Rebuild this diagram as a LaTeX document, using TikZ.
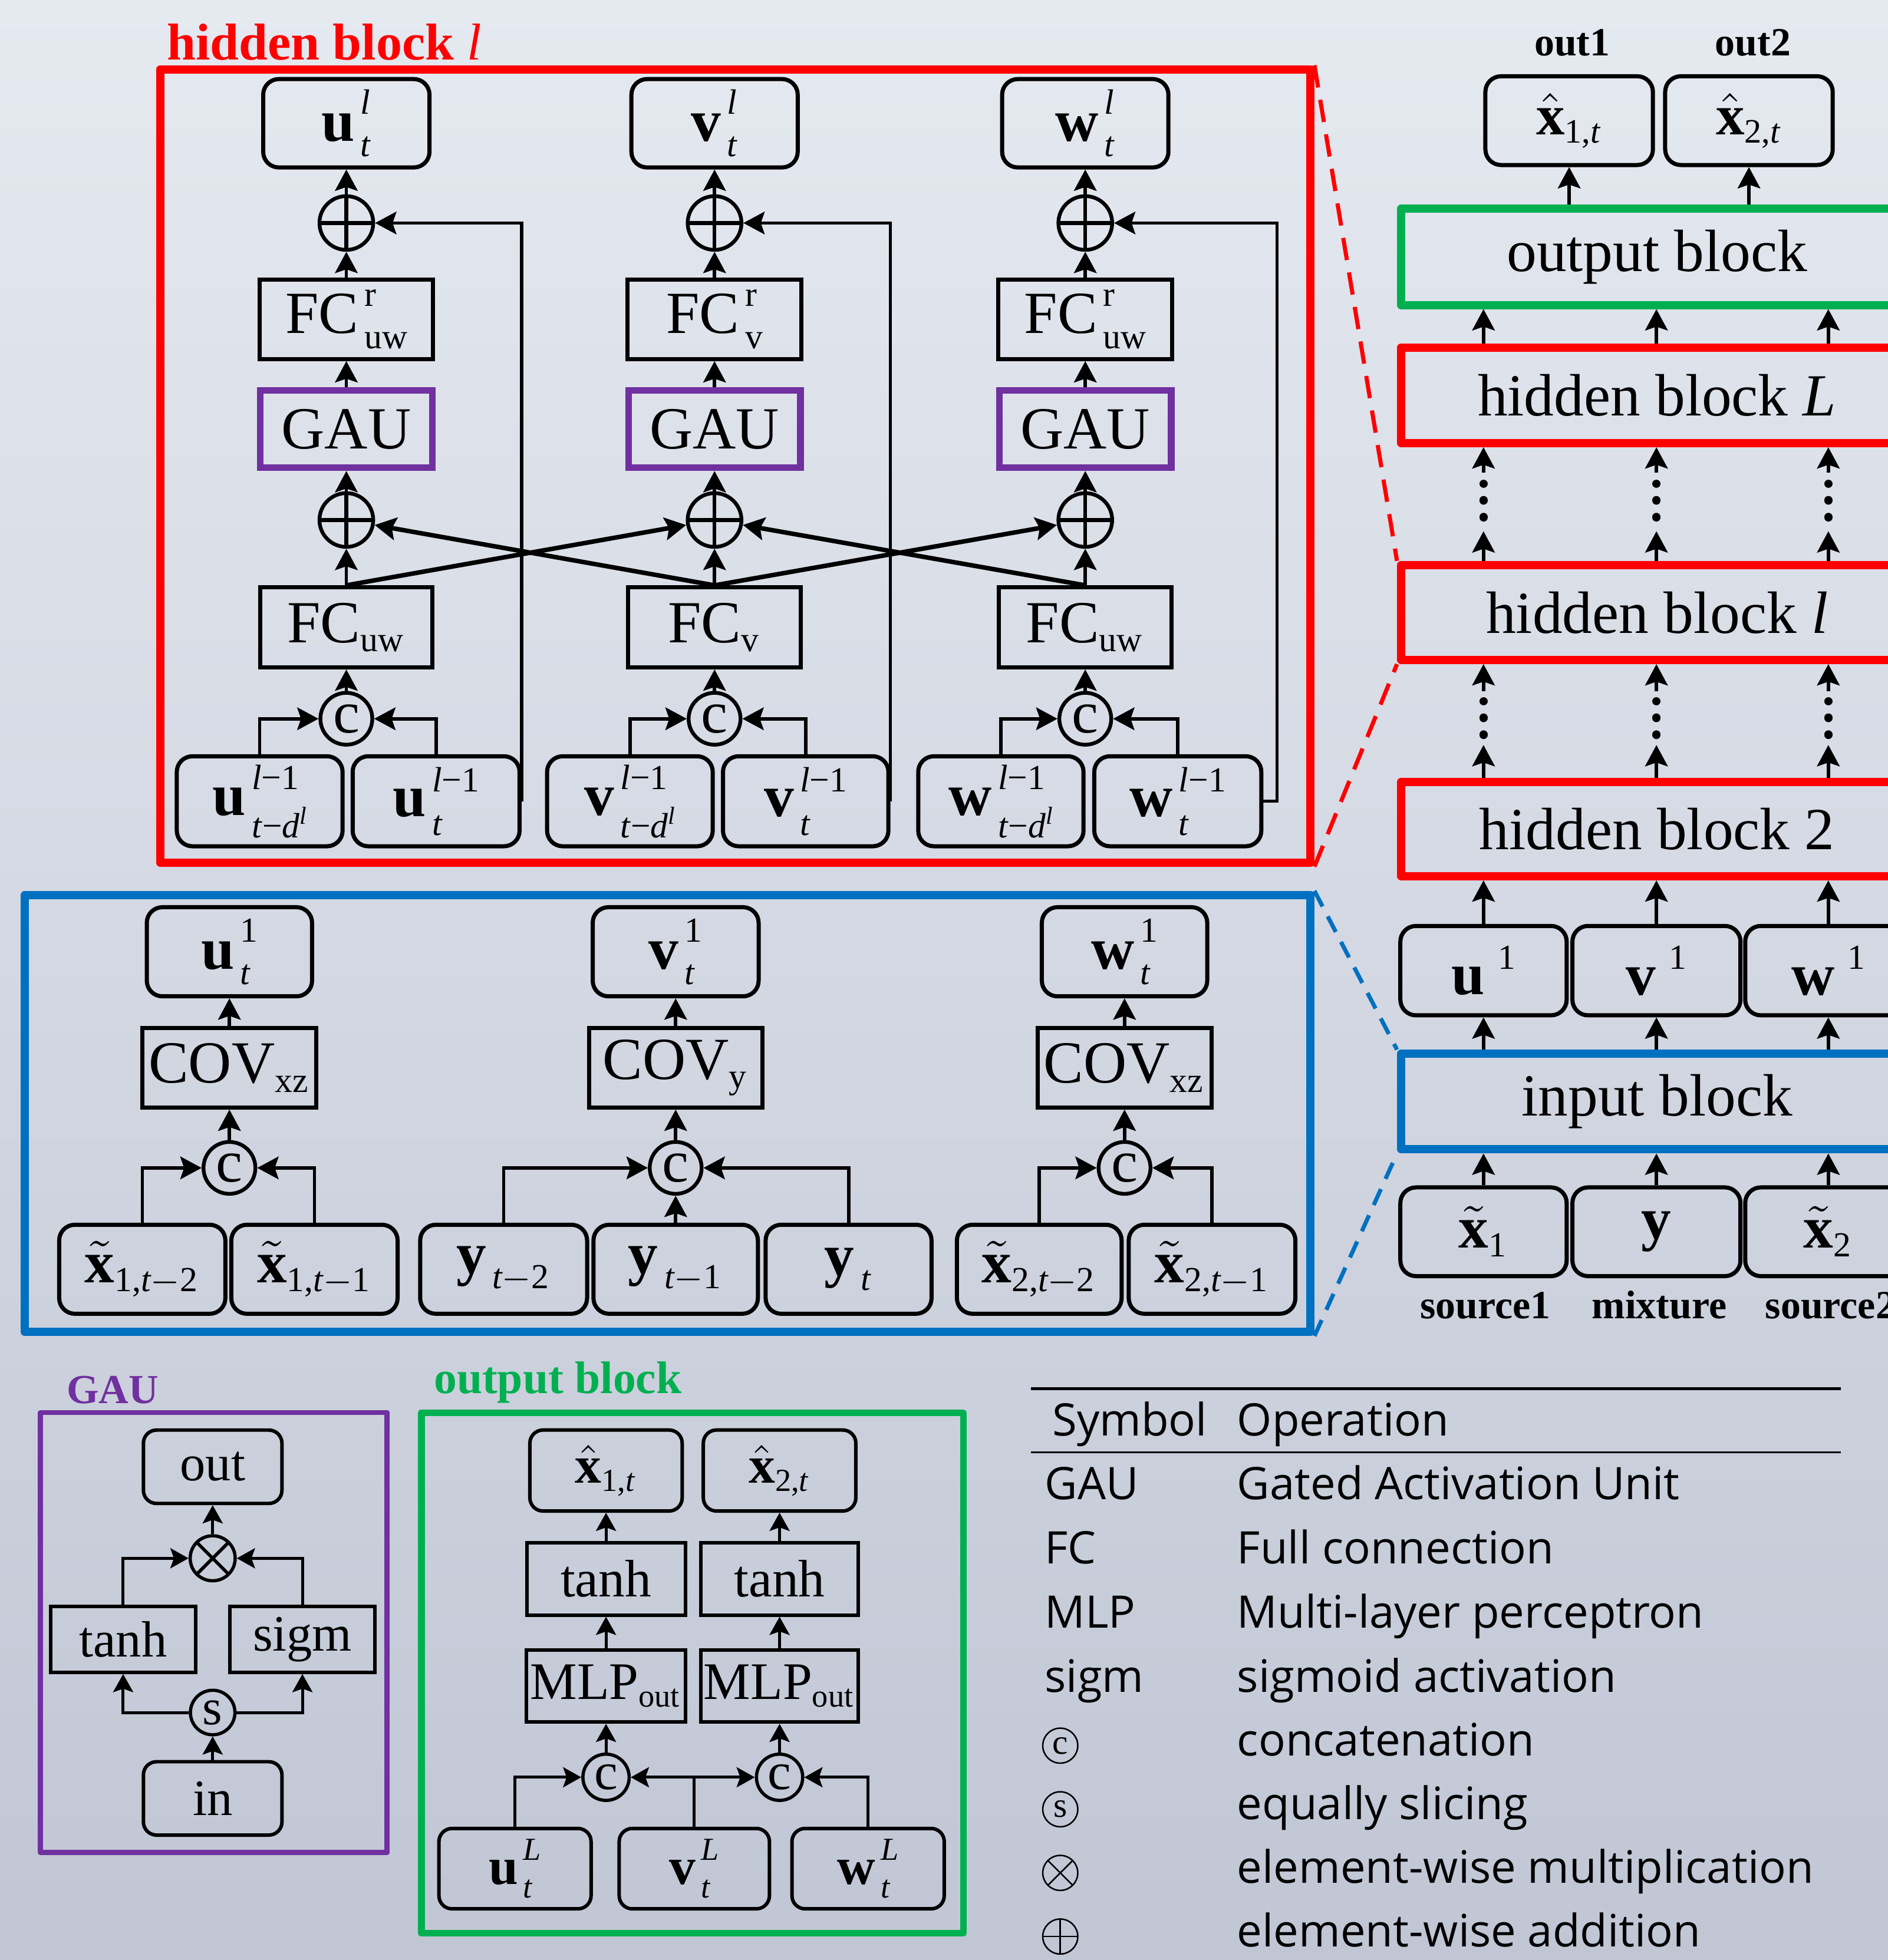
\documentclass[tikz,border=0pt]{standalone}
\usepackage{fix-cm}
\usepackage{amsmath}
\usepackage{fontspec}
\setmainfont{Liberation Serif}
\newfontfamily\tabfont{Open Sans}
\usetikzlibrary{arrows.meta,calc}
\definecolor{bgtop}{HTML}{E5E9F0}
\definecolor{bgbot}{HTML}{C0C6D4}
\definecolor{gpur}{HTML}{7030A0}
\definecolor{ggrn}{HTML}{00B050}
\definecolor{gblu}{HTML}{0070C0}
\definecolor{gred}{HTML}{FF0000}
\DeclareMathSizes{13.6}{13.6}{8}{6}
\DeclareMathSizes{13}{13}{7.8}{5.8}
\DeclareMathSizes{12}{12}{7.3}{5.5}
\DeclareMathSizes{11.6}{11.6}{7}{5.2}
\newcommand\SSf{\fontsize{8}{9}\selectfont}
\newcommand\SSSf{\fontsize{5.6}{6}\selectfont}
\newcommand\myfA{\fontsize{13.6}{16}\selectfont\def\SSf{\fontsize{8}{9}\selectfont}}
\newcommand\myfB{\fontsize{12}{14}\selectfont\def\SSf{\fontsize{7.3}{8.5}\selectfont}}
\newcommand\myfC{\fontsize{11.6}{14}\selectfont}
\newcommand\myfD{\fontsize{13}{15}\selectfont}
\newcommand\myfL{\fontsize{9.1}{11}\selectfont\bfseries}
\newcommand\myfT{\fontsize{10.2}{12}\selectfont\tabfont}
\newcommand\Bf[1]{\textbf{#1}}
\newcommand\It[1]{\textit{#1}}
\newcommand\Rm[1]{\text{#1}}
% base, sup, sub, raise, lower
\newcommand\SupSub[5]{#1\kern0.1em\setbox0\hbox{\SSf #2}\setbox2\hbox{\SSf #3}%
  \dimen0=\wd0 \ifdim\wd2>\dimen0 \dimen0=\wd2 \fi
  \makebox[\dimen0][l]{\rlap{\raise#4\box0}\lower#5\box2}}
\newcommand\TDL{\It{t}−\It{d}\raise0.38em\hbox{\SSSf\It{l}}}
\begin{document}
\begin{tikzpicture}[x=0.1mm,y=-0.1mm,
  sz/.style 2 args={minimum width=#1mm,minimum height=#2mm},
  bx/.style={draw,line width=0.33mm,inner sep=0pt,font=\myfA},
  rb/.style={bx,rounded corners=1.25mm},
  gaub/.style={draw=gpur,line width=0.54mm,inner sep=0pt,font=\myfA},
  opplus/.style={circle,draw,line width=0.3mm,minimum size=4.3mm,inner sep=0pt,
    path picture={\draw[line width=0.3mm] (path picture bounding box.north) -- (path picture bounding box.south)
      (path picture bounding box.west) -- (path picture bounding box.east);}},
  opcat/.style={circle,draw,line width=0.3mm,minimum size=4.15mm,inner sep=0pt,font=\myfA},
  arr/.style={line width=0.27mm,-{Stealth[length=1.7mm,width=1.8mm,inset=0.3mm]}},
  xarr/.style={arr,line width=0.36mm},
  bxB/.style={draw,line width=0.28mm,inner sep=0pt,font=\myfB},
  rbB/.style={bxB,rounded corners=1.05mm},
  opcatB/.style={circle,draw,line width=0.26mm,minimum size=3.7mm,inner sep=0pt,font=\myfB},
  optimesB/.style={circle,draw,line width=0.26mm,minimum size=3.6mm,inner sep=0pt,
    path picture={\draw[line width=0.26mm] (path picture bounding box.north west) -- (path picture bounding box.south east)
      (path picture bounding box.north east) -- (path picture bounding box.south west);}},
  arrB/.style={line width=0.24mm,-{Stealth[length=1.45mm,width=1.6mm,inset=0.28mm]}},
  blk/.style={draw,line width=0.66mm,inner sep=0pt,line join=round},
  dots/.style={line width=0.65mm,line cap=round,dash pattern=on 0.05mm off 1.3mm},
  tsym/.style={circle,draw,line width=0.12mm,minimum size=2.8mm,inner sep=0pt,font=\fontsize{8}{9}\selectfont},
  tplus/.style={tsym,path picture={\draw[line width=0.12mm] (path picture bounding box.north) -- (path picture bounding box.south)
      (path picture bounding box.west) -- (path picture bounding box.east);}},
  ttimes/.style={tsym,path picture={\draw[line width=0.12mm] (path picture bounding box.north west) -- (path picture bounding box.south east)
      (path picture bounding box.north east) -- (path picture bounding box.south west);}},
  tcell/.style={anchor=base west,inner sep=0pt,font=\myfT},
  lab/.style={anchor=base west,inner sep=0pt},
]
\useasboundingbox (0,0) rectangle (1510,1568);
\shade[top color=bgtop,bottom color=bgbot] (0,0) rectangle (1510,1568);
\clip (0,0) rectangle (1510,1568);

%% ================= hidden block l (red) =================
\node[blk,draw=gred,sz={92}{63.45}] (HL) at (588,372.75) {};
\node[lab,text=gred,font=\fontsize{11.8}{13}\selectfont\bfseries] (HLlab) at (133,48) {hidden block \textmd{\textit{l}}};

\node[rb,sz={13.3}{7.07}] (ol1) at (277,98.6) {\SupSub{\Bf{u}}{\It{l}}{\It{t}}{0.45em}{0.26em}};
\node[rb,sz={13.3}{7.07}] (ol2) at (571.5,98.6) {\SupSub{\Bf{v}}{\It{l}}{\It{t}}{0.45em}{0.26em}};
\node[rb,sz={13.3}{7.07}] (ol3) at (868,98.6) {\SupSub{\Bf{w}}{\It{l}}{\It{t}}{0.45em}{0.26em}};
\node[opplus] (pt1) at (277,178.4) {};
\node[opplus] (pt2) at (571.5,178.4) {};
\node[opplus] (pt3) at (868,178.4) {};
\node[bx,sz={13.9}{6.35}] (fr1) at (277,255.5) {\SupSub{FC}{r}{uw}{0.45em}{0.26em}};
\node[bx,sz={13.9}{6.35}] (fr2) at (571.5,255.5) {\SupSub{FC}{r}{v}{0.45em}{0.26em}};
\node[bx,sz={13.9}{6.35}] (fr3) at (868,255.5) {\SupSub{FC}{r}{uw}{0.45em}{0.26em}};
\node[gaub,sz={13.76}{6.18}] (ga1) at (277,343.2) {GAU};
\node[gaub,sz={13.76}{6.18}] (ga2) at (571.5,343.2) {GAU};
\node[gaub,sz={13.76}{6.18}] (ga3) at (868,343.2) {GAU};
\node[opplus] (pl1) at (277,416) {};
\node[opplus] (pl2) at (571.5,416) {};
\node[opplus] (pl3) at (868,416) {};
\node[bx,sz={13.8}{6.4}] (f1) at (277,501.9) {$\Rm{FC}_{\Rm{uw}}$};
\node[bx,sz={13.8}{6.4}] (f2) at (571.5,501.9) {$\Rm{FC}_{\Rm{v}}$};
\node[bx,sz={13.8}{6.4}] (f3) at (868,501.9) {$\Rm{FC}_{\Rm{uw}}$};
\node[opcat] (c1) at (277,575) {c};
\node[opcat] (c2) at (571.5,575) {c};
\node[opcat] (c3) at (868,575) {c};
\node[rb,sz={13.26}{7.2}] (iu1) at (207.7,641) {\SupSub{\Bf{u}}{\It{l}−1}{\TDL}{0.44em}{0.37em}};
\node[rb,sz={13.35}{7.2}] (iu2) at (348.8,641) {\SupSub{\Bf{u}}{\It{l}−1}{\It{t}}{0.42em}{0.31em}};
\node[rb,sz={13.25}{7.2}] (iv1) at (503.8,641) {\SupSub{\Bf{v}}{\It{l}−1}{\TDL}{0.44em}{0.37em}};
\node[rb,sz={13.23}{7.2}] (iv2) at (644.4,641) {\SupSub{\Bf{v}}{\It{l}−1}{\It{t}}{0.42em}{0.31em}};
\node[rb,sz={13.22}{7.2}] (iw1) at (800.5,641) {\SupSub{\Bf{w}}{\It{l}−1}{\TDL}{0.44em}{0.37em}};
\node[rb,sz={13.36}{7.2}] (iw2) at (942,641) {\SupSub{\Bf{w}}{\It{l}−1}{\It{t}}{0.42em}{0.31em}};

\foreach \i in {1,2,3}{
  \draw[arr] (c\i) -- (f\i);
  \draw[arr] (f\i) -- (pl\i);
  \draw[arr] (pl\i) -- (ga\i);
  \draw[arr] (ga\i) -- (fr\i);
  \draw[arr] (fr\i) -- (pt\i);
  \draw[arr] (pt\i) -- (ol\i);
}
\draw[xarr] (f1.north) -- (pl2);
\draw[xarr] (f2.north) -- (pl1);
\draw[xarr] (f2.north) -- (pl3);
\draw[xarr] (f3.north) -- (pl2);
\draw[arr] (iu1) |- (c1);
\draw[arr] (iu2) |- (c1);
\draw[arr] (iv1) |- (c2);
\draw[arr] (iv2) |- (c2);
\draw[arr] (iw1) |- (c3);
\draw[arr] (iw2) |- (c3);
\draw[arr,line width=0.25mm] (iu2.east) |- (pt1);
\draw[arr,line width=0.25mm] (iv2.east) |- (pt2);
\draw[arr,line width=0.25mm] (iw2.east) -- ++(11,0) |- (pt3);

%% ================= input block (blue) =================
\node[blk,draw=gblu,sz={102.82}{34.95}] (IB) at (533.9,890.75) {};
\node[rb,sz={13.22}{7.13}] (iu) at (183.5,761.4) {\SupSub{\Bf{u}}{1}{\It{t}}{0.45em}{0.26em}};
\node[rb,sz={13.27}{7.13}] (iv) at (540.4,761.4) {\SupSub{\Bf{v}}{1}{\It{t}}{0.45em}{0.26em}};
\node[rb,sz={13.23}{7.13}] (iw) at (899.4,761.4) {\SupSub{\Bf{w}}{1}{\It{t}}{0.45em}{0.26em}};
\node[bx,sz={13.9}{6.36}] (cu) at (183.5,854.2) {$\Rm{COV}_{\Rm{xz}}$};
\node[bx,sz={13.87}{6.36}] (cv) at (540.4,854.2) {$\Rm{COV}_{\Rm{y}}$};
\node[bx,sz={13.9}{6.36}] (cw) at (899.4,854.2) {$\Rm{COV}_{\Rm{xz}}$};
\node[opcat] (ccu) at (183.5,934.3) {c};
\node[opcat] (ccv) at (540.4,934.3) {c};
\node[opcat] (ccw) at (899.4,934.3) {c};
\node[rb,sz={13.29}{7.12}] (ix1) at (113.8,1015.4) {$\tilde{\Bf{x}}_{\Rm{1,}\It{t}-\Rm{2}}$};
\node[rb,sz={13.3}{7.12}] (ix2) at (251.5,1015.4) {$\tilde{\Bf{x}}_{\Rm{1,}\It{t}-\Rm{1}}$};
\node[rb,sz={13.35}{7.12}] (iy1) at (402.8,1015.4) {$\Bf{y}_{\,\It{t}-\Rm{2}}$};
\node[rb,sz={13.15}{7.12}] (iy2) at (540.4,1015.4) {$\Bf{y}_{\,\It{t}-\Rm{1}}$};
\node[rb,sz={13.27}{7.12}] (iy3) at (678.7,1015.4) {$\Bf{y}_{\,\It{t}}$};
\node[rb,sz={13.17}{7.12}] (iz1) at (831.2,1015.4) {$\tilde{\Bf{x}}_{\Rm{2,}\It{t}-\Rm{2}}$};
\node[rb,sz={13.33}{7.12}] (iz2) at (969.4,1015.4) {$\tilde{\Bf{x}}_{\Rm{2,}\It{t}-\Rm{1}}$};
\draw[arr] (ix1) |- (ccu);
\draw[arr] (ix2) |- (ccu);
\draw[arr] (iy1) |- (ccv);
\draw[arr] (iy2) -- (ccv);
\draw[arr] (iy3) |- (ccv);
\draw[arr] (iz1) |- (ccw);
\draw[arr] (iz2) |- (ccw);
\draw[arr] (ccu) -- (cu);
\draw[arr] (ccv) -- (cv);
\draw[arr] (ccw) -- (cw);
\draw[arr] (cu) -- (iu);
\draw[arr] (cv) -- (iv);
\draw[arr] (cw) -- (iw);

%% ================= right column =================
\coordinate (cA) at (1186.5,0);
\coordinate (cB) at (1324.8,0);
\coordinate (cC) at (1462.3,0);
\node[rb,font=\myfD,sz={13.4}{7.1}] (xo1) at (1255,96.5) {$\hat{\Bf{x}}_{\Rm{1,}\It{t}}$};
\node[rb,font=\myfD,sz={13.4}{7.1}] (xo2) at (1398.8,96.5) {$\hat{\Bf{x}}_{\Rm{2,}\It{t}}$};
\node[anchor=base,font=\myfL] (lo1) at (1257.5,44.6) {out1};
\node[anchor=base,font=\myfL] (lo2) at (1402,44.6) {out2};
\node[blk,draw=ggrn,sz={40.94}{7.7},font=\myfA] (ob) at (1325.3,205.5) {output block};
\node[blk,draw=gred,sz={40.94}{7.65},font=\myfA] (hbL) at (1325.3,316.25) {hidden block \textit{L}};
\node[blk,draw=gred,sz={40.94}{7.6},font=\myfA] (hbl) at (1325.3,490) {hidden block \textit{l}};
\node[blk,draw=gred,sz={40.94}{7.55},font=\myfA] (hb2) at (1325.3,663.25) {hidden block 2};
\node[rb,sz={13.3}{7.15}] (ru) at (1186.5,776.5) {\SupSub{\Bf{u}\kern0.12em}{1}{}{0.43em}{0pt}};
\node[rb,sz={13.44}{7.15}] (rv) at (1324.8,776.5) {\SupSub{\Bf{v}\kern0.12em}{1}{}{0.43em}{0pt}};
\node[rb,sz={13.3}{7.15}] (rw) at (1462.3,776.5) {\SupSub{\Bf{w}\kern0.12em}{1}{}{0.43em}{0pt}};
\node[blk,draw=gblu,sz={40.94}{7.65},font=\myfA] (ib) at (1325.3,881.25) {input block};
\node[rb,sz={13.3}{7.1}] (rx1) at (1186.5,985.4) {$\tilde{\Bf{x}}_{\Rm{1}}$};
\node[rb,sz={13.44}{7.1}] (ry) at (1324.8,985.4) {\Bf{y}};
\node[rb,sz={13.3}{7.1}] (rx2) at (1462.3,985.4) {$\tilde{\Bf{x}}_{\Rm{2}}$};
\node[anchor=base,font=\myfL] (ls1) at (1188,1054.6) {source1};
\node[anchor=base,font=\myfL] (lmx) at (1327,1054.6) {mixture};
\node[anchor=base,font=\myfL] (ls2) at (1464,1054.6) {source2};

\draw[arr] (xo1 |- ob.north) -- (xo1);
\draw[arr] (xo2 |- ob.north) -- (xo2);
\foreach \c in {cA,cB,cC}{
  \draw[arr] (\c |- hbL.north) -- (\c |- ob.south);
  \draw[arr] (\c |- hbl.north) -- ($(\c)+(0,425)$);
  \draw[dots] ($(\c)+(0,414)$) -- ($(\c)+(0,387)$);
  \draw[arr] ($(\c)+(0,378)$) -- (\c |- hbL.south);
  \draw[arr] (\c |- hb2.north) -- ($(\c)+(0,596)$);
  \draw[dots] ($(\c)+(0,588)$) -- ($(\c)+(0,561)$);
  \draw[arr] ($(\c)+(0,553)$) -- (\c |- hbl.south);
}
\draw[arr] (ru) -- (ru |- hb2.south);
\draw[arr] (rv) -- (rv |- hb2.south);
\draw[arr] (rw) -- (rw |- hb2.south);
\draw[arr] (ru |- ib.north) -- (ru);
\draw[arr] (rv |- ib.north) -- (rv);
\draw[arr] (rw |- ib.north) -- (rw);
\draw[arr] (rx1) -- (rx1 |- ib.south);
\draw[arr] (ry) -- (ry |- ib.south);
\draw[arr] (rx2) -- (rx2 |- ib.south);

\draw[gred,line width=0.33mm,dash pattern=on 1.8mm off 1mm] (HL.north east) -- (hbl.north west);
\draw[gred,line width=0.33mm,dash pattern=on 1.8mm off 1mm] (HL.south east) -- (hbl.south west);
\draw[gblu,line width=0.33mm,dash pattern=on 1.4mm off 0.9mm] (IB.north east) -- (ib.north west);
\draw[gblu,line width=0.33mm,dash pattern=on 1.4mm off 0.9mm] (IB.south east) -- (ib.south west);

%% ================= GAU detail =================
\node[blk,draw=gpur,line width=0.42mm,sz={27.72}{35.2}] (GB) at (171.1,1306) {};
\node[lab,text=gpur,font=\fontsize{9.4}{11}\selectfont\bfseries] (GBlab) at (52.6,1122.5) {GAU};
\node[rbB,font=\myfC,sz={11.08}{5.87}] (gout) at (170.1,1173.4) {out};
\node[optimesB] (gmul) at (170.1,1246.6) {};
\node[bxB,font=\myfC,sz={11.63}{5.28}] (gtanh) at (98.5,1311.4) {tanh};
\node[bxB,font=\myfC,sz={11.58}{5.28}] (gsigm) at (241.9,1311.4) {sigm};
\node[opcatB,font=\myfC,minimum size=3.56mm] (gs) at (170.1,1370) {s};
\node[rbB,font=\myfC,sz={11.08}{5.87}] (gin) at (170.1,1438.7) {in};
\draw[arrB] (gin) -- (gs);
\draw[arrB] (gs) -| (gtanh);
\draw[arrB] (gs) -| (gsigm);
\draw[arrB] (gtanh) |- (gmul);
\draw[arrB] (gsigm) |- (gmul);
\draw[arrB] (gmul) -- (gout);

%% ================= output block detail =================
\node[blk,draw=ggrn,line width=0.54mm,sz={43.35}{41.62}] (OB) at (553.75,1338.4) {};
\node[lab,text=ggrn,font=\fontsize{10.4}{12}\selectfont\bfseries] (OBlab) at (346.4,1114.7) {output block};
\node[rbB,sz={12.18}{6.48}] (ox1) at (484.7,1176.4) {$\hat{\Bf{x}}_{\Rm{1,}\It{t}}$};
\node[rbB,sz={12.2}{6.48}] (ox2) at (623.5,1176.4) {$\hat{\Bf{x}}_{\Rm{2,}\It{t}}$};
\node[bxB,sz={12.68}{5.8}] (ot1) at (484.7,1263) {tanh};
\node[bxB,sz={12.6}{5.8}] (ot2) at (623.5,1263) {tanh};
\node[bxB,sz={12.7}{5.77}] (om1) at (484.7,1348.8) {$\Rm{MLP}_{\Rm{out}}$};
\node[bxB,sz={12.6}{5.77}] (om2) at (623.5,1348.8) {$\Rm{MLP}_{\Rm{out}}$};
\node[opcatB] (oc1) at (484.7,1421.8) {c};
\node[opcatB] (oc2) at (623.5,1421.8) {c};
\node[rbB,sz={12.17}{6.43}] (ouL) at (411.9,1494.9) {\SupSub{\Bf{u}}{\It{L}}{\It{t}}{0.45em}{0.26em}};
\node[rbB,sz={12.02}{6.43}] (ovL) at (555.3,1494.9) {\SupSub{\Bf{v}}{\It{L}}{\It{t}}{0.45em}{0.26em}};
\node[rbB,sz={12.18}{6.43}] (owL) at (694.3,1494.9) {\SupSub{\Bf{w}}{\It{L}}{\It{t}}{0.45em}{0.26em}};
\draw[arrB] (ouL) |- (oc1);
\draw[arrB] (ovL) |- (oc1);
\draw[arrB] (ovL) |- (oc2);
\draw[arrB] (owL) |- (oc2);
\draw[arrB] (oc1) -- (om1);
\draw[arrB] (oc2) -- (om2);
\draw[arrB] (om1) -- (ot1);
\draw[arrB] (om2) -- (ot2);
\draw[arrB] (ot1) -- (ox1);
\draw[arrB] (ot2) -- (ox2);

%% ================= table =================
\draw[line width=0.25mm] (824.7,1111) -- (1472.4,1111);
\draw[line width=0.13mm] (824.7,1161.7) -- (1472.4,1161.7);
\node[tcell] (th1) at (841,1148.7) {Symbol};
\node[tcell] (th2) at (988.8,1148.7) {Operation};
\node[tcell] (s1) at (835,1199.6) {GAU};
\node[tcell] (o1) at (988.8,1199.6) {Gated Activation Unit};
\node[tcell] (s2) at (835,1251) {FC};
\node[tcell] (o2) at (988.8,1251) {Full connection};
\node[tcell] (s3) at (835,1302.3) {MLP};
\node[tcell] (o3) at (988.8,1302.3) {Multi-layer perceptron};
\node[tcell] (s4) at (835,1353.8) {sigm};
\node[tcell] (o4) at (988.8,1353.8) {sigmoid activation};
\node[tsym] (s5) at (848,1396.5) {c};
\node[tcell] (o5) at (988.8,1404.7) {concatenation};
\node[tsym] (s6) at (848,1447.4) {s};
\node[tcell] (o6) at (988.8,1455.6) {equally slicing};
\node[ttimes] (s7) at (848,1498.3) {};
\node[tcell] (o7) at (988.8,1506.5) {element-wise multiplication};
\node[tplus] (s8) at (848,1549.2) {};
\node[tcell] (o8) at (988.8,1557.4) {element-wise addition};
\end{tikzpicture}
\end{document}
